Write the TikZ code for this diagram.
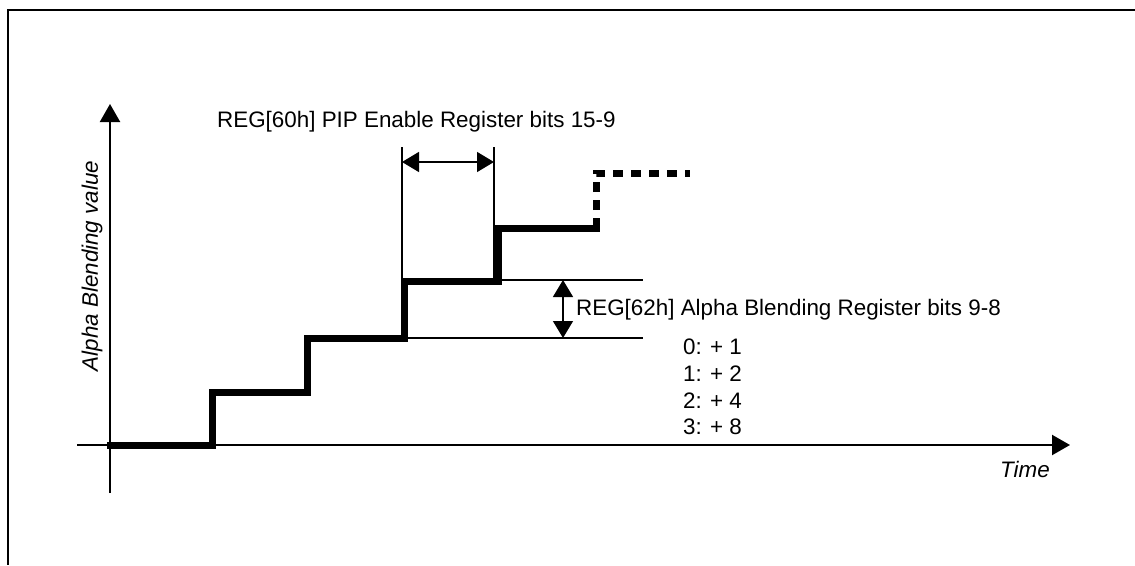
\documentclass[tikz,border=0pt]{standalone}
\usepackage{fontspec}
\setmainfont{Liberation Sans}
\usetikzlibrary{arrows.meta}
\begin{document}
\begin{tikzpicture}[x=1pt,y=-1pt,
  txt/.style={inner sep=0pt,font=\fontsize{22.4}{26}\selectfont},
  axisline/.style={line width=2.2pt,-{Triangle[length=18pt,width=20pt]}},
  stair/.style={line width=7pt,line cap=rect,line join=miter},
  dotstair/.style={line width=7pt,dash pattern=on 10pt off 8pt},
  thin/.style={line width=1.3pt},
  dim/.style={line width=1.3pt,{Triangle[length=17pt,width=20pt]}-{Triangle[length=17pt,width=20pt]}},
  frameline/.style={line width=1.5pt}]
\useasboundingbox (0,0) rectangle (1135,565);
% frame
\coordinate (fr1) at (1135,10);
\coordinate (fr2) at (8,10);
\coordinate (fr3) at (8,565);
\draw[frameline] (fr1) -- (fr2) -- (fr3);
% axes
\coordinate (yb) at (110,493);
\coordinate (yt) at (110,104);
\coordinate (xl) at (77,445);
\coordinate (xr) at (1070,445);
\draw[axisline] (yb) -- (yt);
\draw[axisline] (xl) -- (xr);
\node[txt,font=\fontsize{22.4}{26}\selectfont\itshape,rotate=90] (ylab) at (92,266) {Alpha Blending value};
\node[txt,font=\fontsize{22.4}{26}\selectfont\itshape] (xlab) at (1025,469) {Time};
% staircase
\coordinate (s0) at (110,445);
\coordinate (s1) at (212,445);
\coordinate (s2) at (212,392);
\coordinate (s3) at (307,392);
\coordinate (s4) at (307,338);
\coordinate (s5) at (404,338);
\coordinate (s6) at (404,281);
\coordinate (s7) at (498,281);
\coordinate (s8) at (498,228);
\coordinate (s9) at (596,228);
\coordinate (s10) at (596,173);
\coordinate (s11) at (690,173);
\draw[stair] (s0) -- (s1) -- (s2) -- (s3) -- (s4) -- (s5) -- (s6) -- (s7) -- (s8) -- (s9);
\draw[dotstair] (s9) -- (s10) -- (s11);
% PIP enable dimension
\coordinate (p1t) at (402,147);
\coordinate (p1b) at (402,281);
\coordinate (p2t) at (494,147);
\coordinate (p2b) at (494,281);
\draw[thin] (p1t) -- (p1b);
\draw[thin] (p2t) -- (p2b);
\coordinate (pa) at (402,162);
\coordinate (pb) at (494,162);
\draw[dim] (pa) -- (pb);
\node[txt,anchor=west] (reg60) at (217,122) {REG[60h] PIP Enable Register bits 15-9};
% alpha blending dimension
\coordinate (h1a) at (404,280);
\coordinate (h1b) at (643,280);
\coordinate (h2a) at (404,338);
\coordinate (h2b) at (643,338);
\draw[thin] (h1a) -- (h1b);
\draw[thin] (h2a) -- (h2b);
\coordinate (va) at (563,280);
\coordinate (vb) at (563,338);
\draw[dim] (va) -- (vb);
\node[txt,anchor=west] (reg62) at (576,310) {REG[62h] Alpha Blending Register bits 9-8};
\node[txt,anchor=west] (v0) at (683,347) {0: + 1};
\node[txt,anchor=west] (v1) at (683,374) {1: + 2};
\node[txt,anchor=west] (v2) at (683,401) {2: + 4};
\node[txt,anchor=west] (v3) at (683,427) {3: + 8};
\end{tikzpicture}
\end{document}
